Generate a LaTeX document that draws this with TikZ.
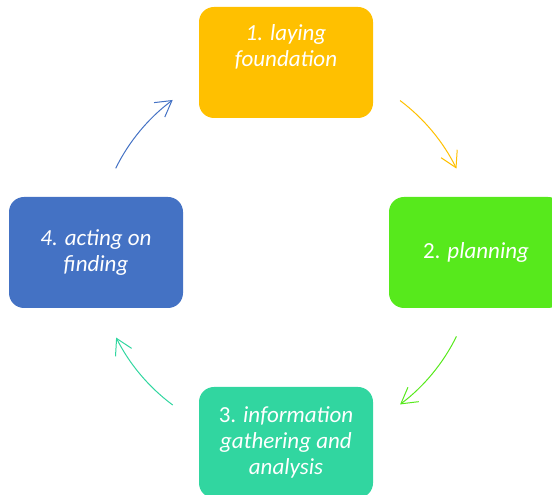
\documentclass[tikz,border=0pt]{standalone}
\usepackage{fontspec}
\setmainfont{Carlito}
\usepackage{tikz}
\usetikzlibrary{arrows.meta}
\definecolor{jaune}{HTML}{FFC000}
\definecolor{vert}{HTML}{57E91C}
\definecolor{turquoise}{HTML}{31D6A0}
\definecolor{bleu}{HTML}{4472C4}

\begin{document}
\begin{tikzpicture}[x=1pt,y=1pt]
\tikzstyle{boucle}=[-{Straight Barb[angle=60:18pt]},line width=1pt]
\tikzset{etape/.style={fill=#1,rounded corners=15pt,minimum width=174pt,minimum height=111pt,
text=white,align=center,font=\fontsize{23}{26}\selectfont\itshape},
etape/.default={white}}
\clip (0,0) rectangle (552,495);
\node[etape=jaune] (E1) at (286,432.5) {1. laying\\foundation\\[8pt] \mbox{}};
\node[etape=vert] (E2) at (476,242.5) {\textup{2.} planning};
\node[etape=turquoise] (E3) at (286,52.5) {\textup{3.} information\\gathering and\\analysis};
\node[etape=bleu] (E4) at (96,242.5) {4. acting on\\finding};

\coordinate (O) at (286,242.5);
\draw[boucle,jaune] (O) ++(53.1:190) arc[start angle=53.1,end angle=26.2,radius=190];
\draw[boucle,vert] (O) ++(-26.2:190) arc[start angle=-26.2,end angle=-53.1,radius=190];
\draw[boucle,turquoise] (O) ++(-126.6:190) arc[start angle=-126.6,end angle=-153.4,radius=190];
\draw[boucle,bleu] (O) ++(153.7:190) arc[start angle=153.7,end angle=126.6,radius=190];
\end{tikzpicture}
\end{document}
